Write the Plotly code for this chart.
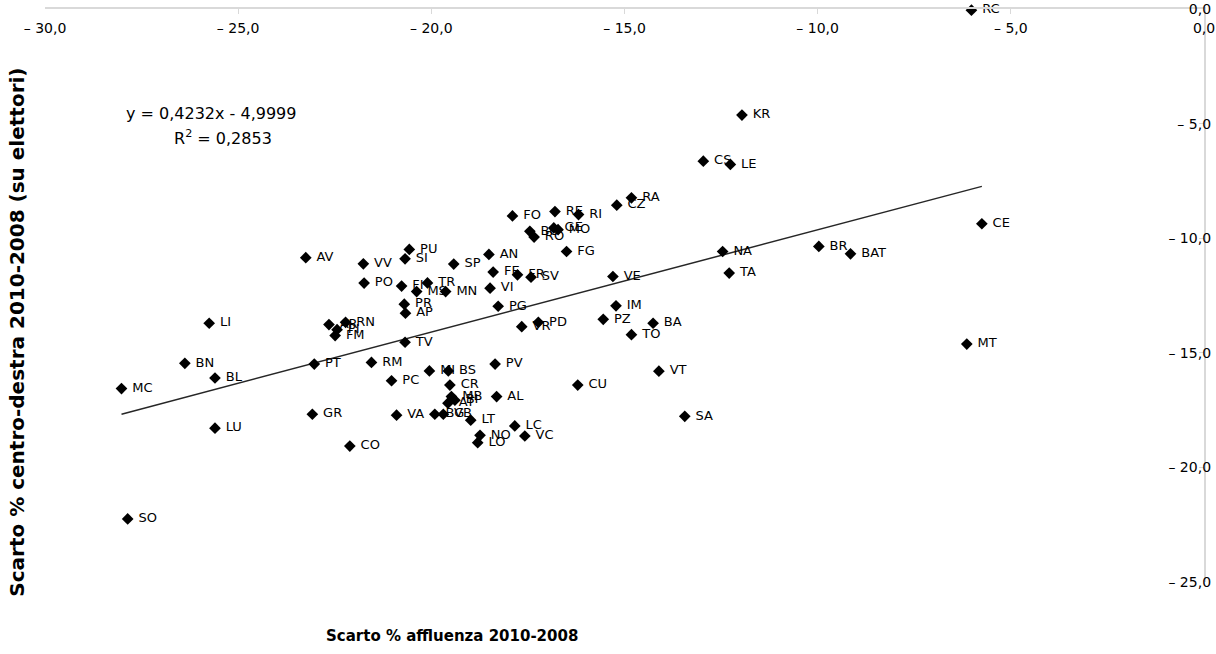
import numpy as np
import plotly.graph_objects as go

# --- data ---
sigle = ["RC", "KR", "CS", "LE", "RA", "CZ", "RI", "RE", "FO", "GE", "MO", "BO", "RO", "FG",
         "AN", "SP", "FE", "FR", "SV", "VE", "VI", "MN", "TR", "MS", "FI", "PU", "SI", "AV",
         "VV", "PO", "PR", "AP", "PG", "PD", "VR", "IM", "PZ", "BA", "TO", "NA", "TA", "BR",
         "BAT", "CE", "MT", "VT", "SA", "CU", "PV", "AL", "MI", "BS", "CR", "MB", "AT", "BI",
         "VA", "BG", "VB", "LT", "NO", "LO", "LC", "VC", "CO", "GR", "PC", "RM", "PT", "TV",
         "AR", "RN", "PI", "FM", "LI", "BN", "BL", "MC", "LU", "SO"]

affluenza = [-6.02, -11.96, -12.96, -12.26, -14.82, -15.20, -16.19, -16.80, -17.90, -16.83,
             -16.72, -17.45, -17.34, -16.50, -18.51, -19.42, -18.40, -17.77, -17.42, -15.30,
             -18.48, -19.63, -20.10, -20.38, -20.77, -20.57, -20.68, -23.25, -21.76, -21.74,
             -20.70, -20.67, -18.27, -17.23, -17.66, -15.22, -15.55, -14.26, -14.82, -12.46,
             -12.29, -9.97, -9.15, -5.75, -6.14, -14.11, -13.44, -16.21, -18.35, -18.31,
             -20.05, -19.56, -19.52, -19.48, -19.57, -19.39, -20.90, -19.91, -19.69, -18.98,
             -18.74, -18.80, -17.84, -17.58, -22.11, -23.08, -21.03, -21.55, -23.03, -20.68,
             -22.65, -22.22, -22.44, -22.49, -25.75, -26.38, -25.60, -28.02, -25.60, -27.86]

centrodestra = [-0.05, -4.63, -6.64, -6.78, -8.24, -8.56, -8.97, -8.84, -9.03, -9.55,
                -9.63, -9.70, -9.95, -10.58, -10.71, -11.13, -11.48, -11.60, -11.70, -11.67,
                -12.18, -12.33, -11.95, -12.33, -12.09, -10.49, -10.90, -10.85, -11.12, -11.96,
                -12.88, -13.27, -12.97, -13.67, -13.86, -12.95, -13.54, -13.71, -14.21, -10.58,
                -11.52, -10.36, -10.68, -9.37, -14.62, -15.80, -17.77, -16.41, -15.49, -16.91,
                -15.79, -15.79, -16.41, -16.91, -17.20, -17.07, -17.72, -17.68, -17.68, -17.94,
                -18.60, -18.92, -18.19, -18.63, -19.07, -17.68, -16.22, -15.42, -15.49, -14.54,
                -13.77, -13.67, -13.99, -14.25, -13.71, -15.46, -16.10, -16.56, -18.29, -22.25]

x_ticks = [-30, -25, -20, -15, -10, -5, 0]
x_ticktext = ["– 30,0", "– 25,0", "– 20,0", "– 15,0", "– 10,0", "– 5,0", "0,0"]
y_ticks = [0, -5, -10, -15, -20, -25]
y_ticktext = ["0,0", "– 5,0", "– 10,0", "– 15,0", "– 20,0", "– 25,0"]

equazione = "y = 0,4232x - 4,9999"
r_quadro = "R<sup>2</sup> = 0,2853"
titolo_x = "Scarto % affluenza 2010-2008"
titolo_y = "Scarto % centro-destra 2010-2008 (su elettori)"

FONT = "DejaVu Sans"

# linear trend (least squares on the plotted points)
xa = np.array(affluenza)
ya = np.array(centrodestra)
slope, intercept = np.polyfit(xa, ya, 1)
trend_x = [xa.min(), xa.max()]
trend_y = [slope * v + intercept for v in trend_x]

etichette = ["\u00a0" + s for s in sigle]

fig = go.Figure()
fig.add_trace(go.Scatter(
    x=trend_x, y=trend_y, mode="lines",
    line=dict(color="#262626", width=1.5), hoverinfo="skip", showlegend=False))
fig.add_trace(go.Scatter(
    x=affluenza, y=centrodestra, mode="markers+text", text=etichette,
    textposition="middle right",
    marker=dict(symbol="diamond", size=9, color="black"),
    textfont=dict(family=FONT, size=13, color="black"),
    cliponaxis=False, showlegend=False))

fig.update_layout(
    width=1216, height=654,
    margin=dict(l=45, r=12, t=9, b=72),
    paper_bgcolor="white", plot_bgcolor="white",
    font=dict(family=FONT, size=13, color="black"),
    showlegend=False,
    xaxis=dict(range=[-30, 0], side="top", tickvals=x_ticks, ticktext=x_ticktext,
               ticks="inside", ticklen=5, tickcolor="#d9d9d9", automargin=False,
               showline=True, linecolor="#d9d9d9", linewidth=1.5,
               showgrid=False, zeroline=False,
               ticklabelposition="inside", ticklabeloverflow="allow",
               ticklabelstandoff=9,
               tickfont=dict(family=FONT, size=14, color="black")),
    yaxis=dict(range=[-25, 0], side="right", tickvals=y_ticks, ticktext=y_ticktext,
               ticks="inside", ticklen=5, tickcolor="#d9d9d9", automargin=False,
               showline=True, linecolor="#d9d9d9", linewidth=1.5,
               showgrid=False, zeroline=False,
               ticklabelposition="inside", ticklabeloverflow="allow",
               ticklabelstandoff=-12,
               tickfont=dict(family=FONT, size=14, color="black")),
    annotations=[
        dict(text=equazione, xref="paper", yref="paper", x=0.1432, y=0.8168,
             showarrow=False, font=dict(family=FONT, size=16, color="black"),
             xanchor="center", yanchor="middle"),
        dict(text=r_quadro, xref="paper", yref="paper", x=0.1536, y=0.7749,
             showarrow=False, font=dict(family=FONT, size=16, color="black"),
             xanchor="center", yanchor="middle"),
        dict(text="<b>" + titolo_x + "</b>", xref="paper", yref="paper",
             x=0.3512, y=-0.0942, showarrow=False,
             font=dict(family=FONT, size=15, color="black"),
             xanchor="center", yanchor="middle"),
        dict(text="<b>" + titolo_y + "</b>", xref="paper",
             yref="paper", x=-0.0237, y=0.436, showarrow=False, textangle=-90,
             font=dict(family=FONT, size=20, color="black"),
             xanchor="center", yanchor="middle"),
    ],
)

# remove the default page margin so the chart sits at the window's top-left corner
fig.write_html("out.html", config={"displayModeBar": False},
               post_script="document.body.style.margin='0';")
